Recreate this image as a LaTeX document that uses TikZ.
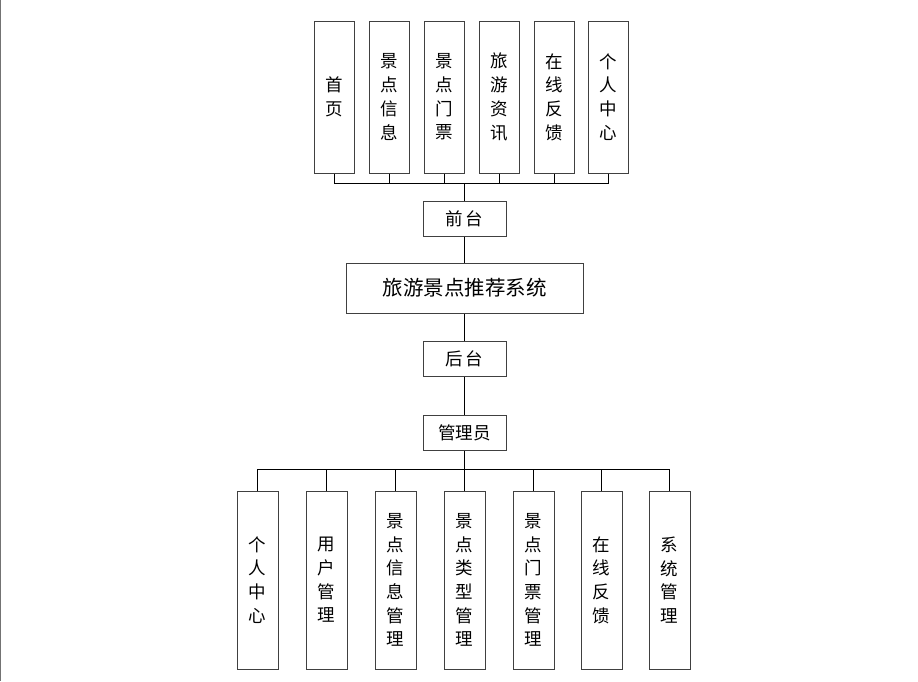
\documentclass[tikz,border=0pt]{standalone}
\usepackage{fontspec}
\newfontfamily\cjk{Noto Sans CJK SC}
\begin{document}
\begin{tikzpicture}[x=1pt,y=-1pt,
  box/.style={draw=black!75, line width=1pt, fill=white, inner sep=0pt,
    font=\cjk\fontsize{17.5}{23.7}\selectfont, align=center},
  tallbox/.style={box, minimum width=40pt, minimum height=152pt},
  lowbox/.style={box, minimum width=41pt, minimum height=178pt},
  midbox/.style={box, minimum width=83pt, minimum height=35pt},
  wire/.style={draw=black, line width=0.9pt}]
\useasboundingbox (0,0) rectangle (918,681);
\fill[white] (0,0) rectangle (918,681);
\draw[black!55, line width=1.2pt] (0.6,0) -- (0.6,681);

% front-end pages
\node[tallbox] (t1) at (334,97) {首\\页};
\node[tallbox] (t2) at (389,97) {景\\点\\信\\息};
\node[tallbox] (t3) at (444,97) {景\\点\\门\\票};
\node[tallbox] (t4) at (499,97) {旅\\游\\资\\讯};
\node[tallbox] (t5) at (554,97) {在\\线\\反\\馈};
\node[tallbox] (t6) at (608,97) {个\\人\\中\\心};

\node[midbox] (front) at (464.5,218.5) {前\,台};
\node[box, minimum width=237pt, minimum height=50pt,
  font=\cjk\fontsize{20.5}{24}\selectfont] (sys) at (464.5,288) {旅游景点推荐系统};
\node[midbox] (back) at (464.5,359) {后\,台};
\node[midbox] (admin) at (464.5,433) {管理员};

% back-end modules
\node[lowbox] (b1) at (257.5,580) {个\\人\\中\\心};
\node[lowbox] (b2) at (326.5,580) {用\\户\\管\\理};
\node[lowbox] (b3) at (395.5,580) {景\\点\\信\\息\\管\\理};
\node[lowbox] (b4) at (464.5,580) {景\\点\\类\\型\\管\\理};
\node[lowbox] (b5) at (533.5,580) {景\\点\\门\\票\\管\\理};
\node[lowbox] (b6) at (601.5,580) {在\\线\\反\\馈};
\node[lowbox] (b7) at (669.5,580) {系\\统\\管\\理};

% junction points of the two buses
\coordinate (topbus) at (464.5,183);
\coordinate (botbus) at (464.5,469);

\foreach \n in {t1,t2,t3,t4,t5,t6}
  \draw[wire] (\n.south) |- (topbus);
\draw[wire] (topbus) -- (front.north);
\draw[wire] (front.south) -- (sys.north);
\draw[wire] (sys.south) -- (back.north);
\draw[wire] (back.south) -- (admin.north);
\draw[wire] (admin.south) -- (botbus);
\foreach \n in {b1,b2,b3,b4,b5,b6,b7}
  \draw[wire] (botbus) -| (\n.north);
\end{tikzpicture}
\end{document}
